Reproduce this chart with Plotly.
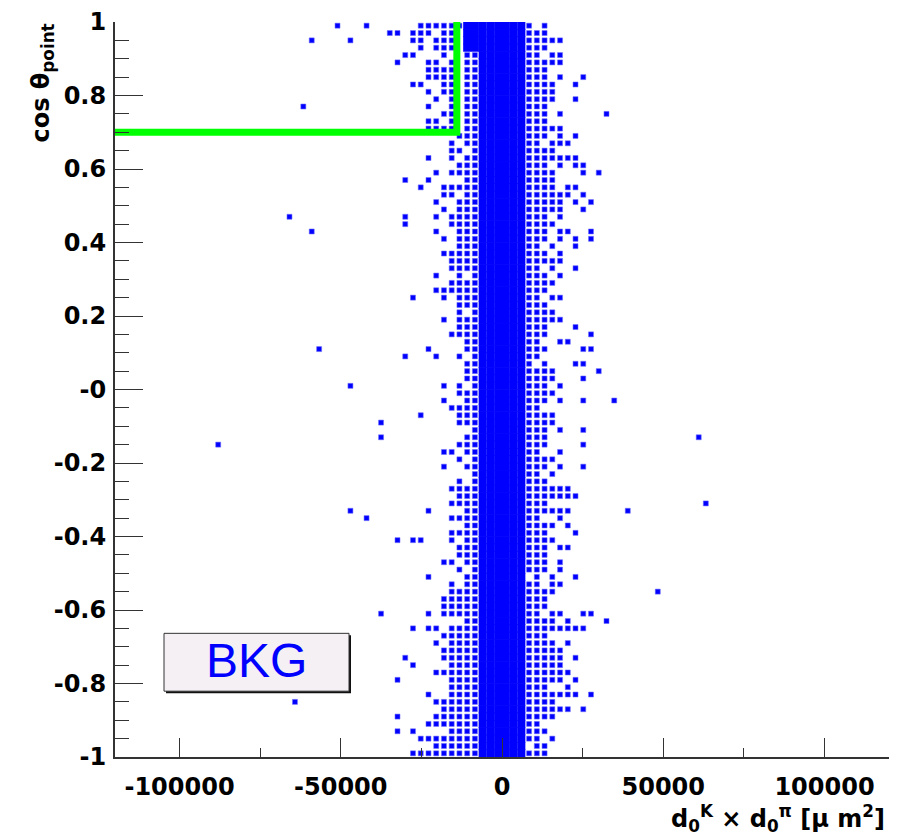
import plotly.graph_objects as go

# ---------------- data ----------------
# 2D histogram occupancy (100 x 100 bins over x:[-120000,120000], y:[-1,1]).
# Columns listed: bin centres of the central band (k = -15 .. 13)
col_x = [-34800, -32400, -30000, -27600, -25200, -22800, -20400, -18000, -15600,
         -13200, -10800, -8400, -6000, -3600, -1200, 1200, 3600, 6000, 8400,
         10800, 13200, 15600, 18000, 20400, 22800, 25200, 27600, 30000, 32400]
y_lo, y_hi, n_ybins = -1.0, 1.0, 100
# rows from top (bin 99) to bottom (bin 0);  'o' = filled bin, '#' = dense core, '.' = empty
rows = [
    "....oooooo########o.o........",
    "oo.ooo.oo.########ooo........",
    "...oo.ooo.########ooooo......",
    "....o.ooo.########ooo........",
    "..oo...o..oo######oo.oo......",
    ".o...oo.o.oo######ooooo......",
    ".....oooo.oo######ooo........",
    ".....oooo.oo######ooo.o..o...",
    "...oo..oo.oo######oooo..o....",
    ".....o.oo.oo######oooo.......",
    "......o.o.oo######oooo..o....",
    ".....o..o.oo######ooo........",
    ".......oo.oo######ooo.o.....o",
    ".....oo.o.oo######ooo........",
    ".....oooo.oo######ooooo......",
    ".........ooo######ooo.o.o....",
    "........o.oo######oo.ooo.....",
    "........oo.o######oooo.......",
    ".....o..o.oo######ooooooo....",
    ".........ooo######ooo.o.oo...",
    "......o.oooo######oooo...o.o.",
    "..o..o....oo######oooo.......",
    "....o..ooooo######oooo.oo....",
    ".......oo.oo######oooooo.o...",
    "......o..ooo######ooooo.o.o..",
    ".......o.ooo######ooooo..o...",
    "..o...o.oooo######ooo.o......",
    "..o.....oooo######oooo.......",
    "......o..ooo######ooo.oo..o..",
    ".......o.ooo######ooo.o.o.o..",
    ".........ooo######oo.o..o....",
    ".......ooooo######ooo.o......",
    "........oooo######ooooo......",
    "........oooo######oo.o..o....",
    "......o..o.o######ooo.o......",
    "........oooo######oooo.......",
    "......oooooo######ooo........",
    "...o...o.ooo######oo.oo......",
    ".........ooo######ooo........",
    ".........o.o######oooo.......",
    ".......o.ooo######ooooo......",
    ".........ooo######ooo...o....",
    "........oooo######ooo.....o..",
    "..........oo######oo..oo.....",
    ".....o....oo######ooo....oo..",
    "..o...o..o.o######oo.........",
    "..........oo######o.o...oo...",
    "..........oo######oooo.....o.",
    "..........oo######oooo...o...",
    ".......o.o.o######ooo.o......",
    ".........ooo######oooo.......",
    ".......o..oo######ooo.o..o...",
    "........oooo######oo.........",
    "....o....ooo######oooo.......",
    ".........ooo######oooo.......",
    "...........o######ooo.o..o...",
    "..........oo######ooo........",
    ".........ooo######ooo....o...",
    ".......oo.oo######oo..o......",
    ".........o.o######oooo.......",
    ".......o..oo######ooo.o..o...",
    "...........o######oo.o.......",
    ".........o.o######ooo........",
    "........oooo######oooooo.....",
    ".........ooo######ooooooo....",
    "........oooo######ooo........",
    ".....o....oo######oooooo.....",
    "........oooo######oo..o......",
    "..........oo######oooo.o.....",
    "........oooo######ooo...o....",
    ".o.oo...o.oo######oooo.......",
    ".........ooo######ooo.oo.....",
    ".........ooo######ooo........",
    ".......oo.oo######ooo.o......",
    ".........o.o######ooo.o......",
    ".....o....oo######.o.o..o....",
    "........o.oo######oo.oo......",
    "........oooo######oooo.......",
    ".......ooooo######ooo........",
    ".......ooooo######ooo........",
    ".....o.ooooo######oo.oo..oo..",
    "..........oo######oooo.o....o",
    "...o.oo.oooo######oooooooo...",
    ".......ooooo######ooo........",
    "......o.oooo######oooo.o.....",
    ".......ooooo######ooooo......",
    "..o....ooooo######ooooo.o....",
    "...o....oooo######ooooo......",
    "......oooooo######oooooo.....",
    ".o......oooo######ooooo.o....",
    "........oooo######ooo..o.....",
    ".....o..oooo######ooooooo.o..",
    "......oooooo######oooo.......",
    ".......ooooo######oooooo.o...",
    ".o....oooooo######oooo.......",
    ".....ooooooo######oo.........",
    ".o.o....oooo######ooo........",
    "....oooooooo######oo.o.......",
    "......oooooo######.oo........",
    "...ooooooooo######ooo........",
]
# isolated entries far from the band
out_x = [-51000, -42000, -59000, -47000, -61600, -65900, -59000, -56700, -47000,
         -88000, -37500, -37500, -47000, -42000, -37500, -64200,
         61000, 63200, 39000, 48300, 34800]
out_y = [0.99, 0.99, 0.95, 0.95, 0.77, 0.47, 0.43, 0.11, 0.01,
         -0.15, -0.09, -0.13, -0.33, -0.35, -0.61, -0.85,
         -0.13, -0.31, -0.33, -0.55, -0.03]
# cut line
cut_x = [-120000, -14000, -14000]
cut_y = [0.7, 0.7, 1.0]

x_ticks = [-100000, -50000, 0, 50000, 100000]
x_ticktext = ["-100000", "-50000", "0", "50000", "100000"]
x_minor = [-75000, -25000, 25000, 75000]
y_ticks = [-1, -0.8, -0.6, -0.4, -0.2, 0, 0.2, 0.4, 0.6, 0.8, 1]
y_ticktext = ["-1", "-0.8", "-0.6", "-0.4", "-0.2", "-0", "0.2", "0.4", "0.6", "0.8", "1"]
y_minor = [-0.95, -0.9, -0.85, -0.75, -0.7, -0.65, -0.55, -0.5, -0.45, -0.35, -0.3, -0.25,
           -0.15, -0.1, -0.05, 0.05, 0.1, 0.15, 0.25, 0.3, 0.35, 0.45, 0.5, 0.55,
           0.65, 0.7, 0.75, 0.85, 0.9, 0.95]

# ---------------- build points ----------------
ybw = (y_hi - y_lo) / n_ybins
ncol = len(col_x)
px_o, py_o, px_c, py_c = [], [], [], []
for i, r in enumerate(rows):
    j = n_ybins - 1 - i
    yc = y_lo + (j + 0.5) * ybw
    r = r.ljust(ncol, ".")[:ncol]
    for c, ch in enumerate(r):
        if ch == "o":
            px_o.append(col_x[c]); py_o.append(yc)
        elif ch == "#":
            px_c.append(col_x[c]); py_c.append(yc)

BLUE = "#0000ff"
HALO = "rgba(110,110,255,0.55)"
fig = go.Figure()
fig.add_trace(go.Scatter(x=px_c, y=py_c, mode="markers",
                         marker=dict(symbol="square", size=8, color=BLUE, line=dict(width=0)),
                         hoverinfo="skip", showlegend=False))
fig.add_trace(go.Scatter(x=px_o + out_x, y=py_o + out_y, mode="markers",
                         marker=dict(symbol="square", size=5, color=BLUE,
                                     line=dict(width=1, color=HALO)),
                         hoverinfo="skip", showlegend=False))
fig.add_trace(go.Scatter(x=cut_x, y=cut_y, mode="lines",
                         line=dict(color="#00ff00", width=7), hoverinfo="skip", showlegend=False))

L, R, T, B = 115, 8, 20, 81
W, H = 897, 838
pw, ph = W - L - R, H - T - B

def pxx(p):
    return (p - L) / pw

def pxy(p):
    return (T + ph - p) / ph

tickfont = dict(family="DejaVu Sans", size=24, color="black", weight="bold")
fig.update_layout(
    width=W, height=H, margin=dict(l=L, r=R, t=T, b=B),
    paper_bgcolor="white", plot_bgcolor="white",
    xaxis=dict(range=[-120000, 120000], showgrid=False, zeroline=False,
               showline=True, linecolor="#333333", linewidth=2,
               tickmode="array", tickvals=x_ticks, ticktext=x_ticktext,
               ticks="inside", ticklen=19, tickwidth=1, tickcolor="#333333",
               tickfont=tickfont, ticklabelstandoff=7,
               minor=dict(tickmode="array", tickvals=x_minor, ticks="inside",
                          ticklen=9, tickwidth=1, tickcolor="#333333")),
    yaxis=dict(range=[-1, 1], showgrid=False, zeroline=False,
               showline=True, linecolor="#333333", linewidth=2,
               tickmode="array", tickvals=y_ticks, ticktext=y_ticktext,
               ticks="inside", ticklen=28, tickwidth=1, tickcolor="#333333",
               tickfont=tickfont, ticklabelstandoff=2,
               minor=dict(tickmode="array", tickvals=y_minor, ticks="inside",
                          ticklen=14, tickwidth=1, tickcolor="#333333")),
    shapes=[
        dict(type="rect", xref="paper", yref="paper",
             x0=pxx(166), x1=pxx(351), y0=pxy(693), y1=pxy(635),
             fillcolor="#111111", line=dict(width=0), layer="above"),
        dict(type="rect", xref="paper", yref="paper",
             x0=pxx(164), x1=pxx(349), y0=pxy(691), y1=pxy(633),
             fillcolor="#f4f0f4", line=dict(color="#333333", width=1), layer="above"),
    ],
    annotations=[
        dict(text="BKG", xref="paper", yref="paper", x=pxx(256.5), y=pxy(660),
             xanchor="center", yanchor="middle", showarrow=False,
             font=dict(family="Liberation Sans", size=48, color=BLUE)),
        dict(text="cos θ<sub>point</sub>", xref="paper", yref="paper",
             x=pxx(42), y=pxy(20), xanchor="center", yanchor="top", textangle=-90,
             showarrow=False,
             font=dict(family="DejaVu Sans", size=24, color="black", weight="bold")),
        dict(text="d<sub>0</sub><sup>K</sup> × d<sub>0</sub><sup>π</sup> [μ m<sup>2</sup>]",
             xref="paper", yref="paper", x=pxx(887), y=pxy(838), xanchor="right",
             yanchor="bottom", showarrow=False,
             font=dict(family="DejaVu Sans", size=24, color="black", weight="bold")),
    ],
)

fig.write_html("out.html")
